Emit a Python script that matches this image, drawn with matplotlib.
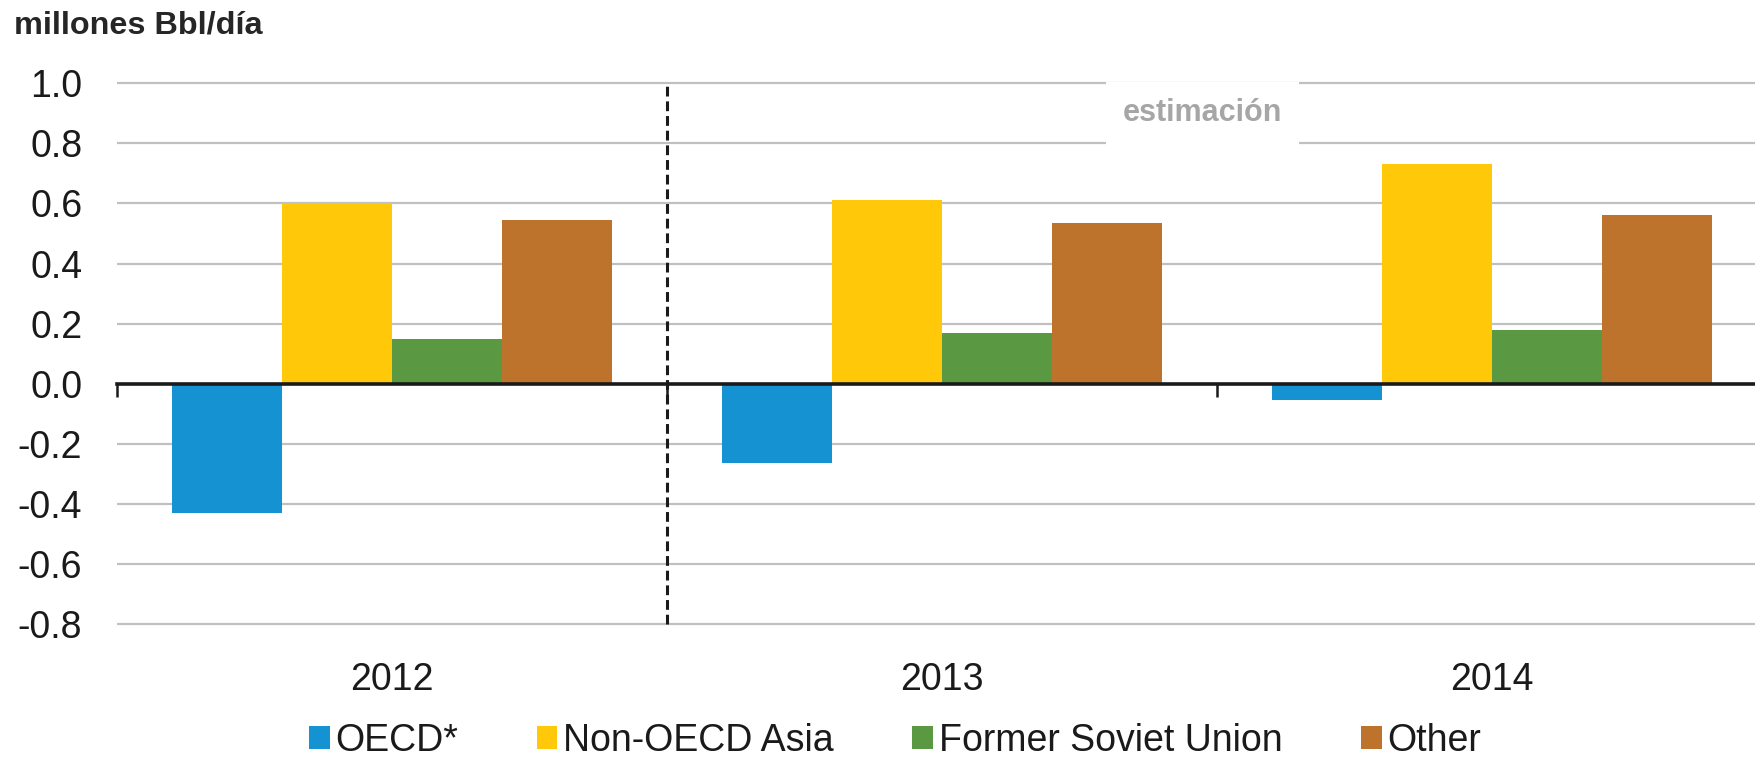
import numpy as np
import matplotlib
matplotlib.use("Agg")
import matplotlib.pyplot as plt
import matplotlib.transforms as mtransforms

# --- datos ---
years = ["2012", "2013", "2014"]
series = ["OECD*", "Non-OECD Asia", "Former Soviet Union", "Other"]
oecd = [-0.43, -0.265, -0.055]
non_oecd_asia = [0.60, 0.61, 0.73]
former_soviet = [0.15, 0.17, 0.18]
other = [0.545, 0.535, 0.56]
colors = ["#1492d2", "#ffc808", "#5a9842", "#bd732b"]
yticks = [1.0, 0.8, 0.6, 0.4, 0.2, 0.0, -0.2, -0.4, -0.6, -0.8]

sans = ["Liberation Sans", "DejaVu Sans"]

fig = plt.figure(figsize=(17.55, 7.59), dpi=100)
ax = fig.add_axes([117 / 1755, 0.1706, 1 - 117 / 1755, 0.7273])

x = np.arange(len(years))
width = 0.2
values = [oecd, non_oecd_asia, former_soviet, other]
for i, (name, vals, c) in enumerate(zip(series, values, colors)):
    ax.bar(x + (i - 1.5) * width, vals, width, color=c, label=name,
           zorder=3, linewidth=0)

ax.set_xlim(-0.5, 2.478)
ax.set_ylim(-0.82, 1.02)

# rejilla horizontal
for yv in yticks:
    if yv != 0:
        ax.axhline(yv, color="#c0c0c0", lw=1.6, zorder=1)

# eje cero con marcas entre grupos
for s in ["top", "right", "left"]:
    ax.spines[s].set_visible(False)
ax.spines["bottom"].set_position(("data", 0))
ax.spines["bottom"].set_linewidth(2.6)
ax.spines["bottom"].set_color("#1a1a1a")
ax.spines["bottom"].set_zorder(4)
ax.set_xticks([-0.5, 0.5, 1.5])
ax.set_xticklabels([])
ax.tick_params(axis="x", direction="out", length=9, width=1.8, color="#1a1a1a")

ax.set_yticks(yticks)
ax.set_yticklabels([f"{v:.1f}" for v in yticks], family=sans, fontsize=27,
                   color="#1a1a1a")
ax.tick_params(axis="y", length=0, pad=25)

# línea divisoria punteada
ax.axvline(0.5, ymin=(-0.8 + 0.82) / 1.84, ymax=(1.0 + 0.82) / 1.84,
           color="#1a1a1a", lw=2.2, ls=(0, (3.2, 1.6)), zorder=5)

# años bajo el gráfico
trans = mtransforms.blended_transform_factory(ax.transData, fig.transFigure)
for xi, yr in zip(x, years):
    ax.text(xi, 1 - 680 / 759, yr, transform=trans, ha="center", va="center",
            family=sans, fontsize=27, color="#1a1a1a")

ax.text(1.473, 0.9, "estimación", ha="center", va="center", family=sans,
        fontsize=22, fontweight="bold", color="#a6a6a6", zorder=6,
        bbox=dict(boxstyle="square,pad=0.55", facecolor="white",
                  edgecolor="none"))

fig.text(14 / 1755, 1 - 26 / 759, "millones Bbl/día", ha="left", va="center",
         family=sans, fontsize=23.3, fontweight="bold", color="#262626")

leg = fig.legend(loc="center", bbox_to_anchor=(0.51, 0.024), ncol=4,
                 frameon=False, prop={"family": sans, "size": 27},
                 handlelength=0.55, handleheight=0.6, handletextpad=0.15,
                 columnspacing=2.1, borderpad=0)
for t in leg.get_texts():
    t.set_color("#1a1a1a")

fig.savefig("out.png", dpi=100)
